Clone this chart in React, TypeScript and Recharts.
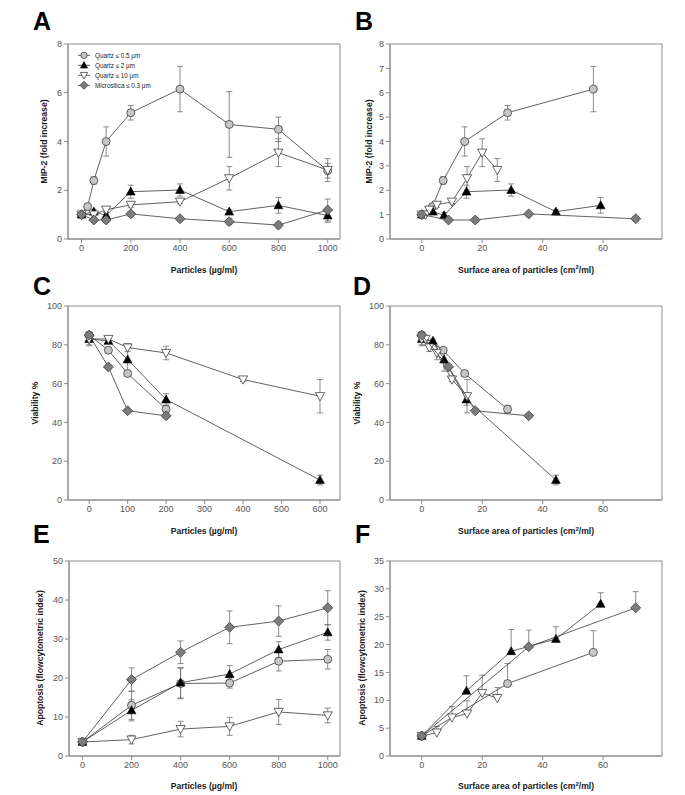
import { ScatterChart, Scatter, XAxis, YAxis, ErrorBar, ReferenceArea } from 'recharts'

const FONT = 'Arial, "Liberation Sans", Helvetica, sans-serif'
const LINE = '#3a3a3a'
const ERR = '#6e6e6e'
const FRAME = '#8c8c8c'
const TICK_TEXT = '#555'

const seriesNames = ['Quartz ≤ 0.5 µm', 'Quartz ≤ 2 µm', 'Quartz ≤ 10 µm', 'Microsilica ≤ 0.3 µm']

// MIP-2 (A: by dose, B: by surface area)
const mipDoseQ05 = [0, 25, 50, 100, 200, 400, 600, 800, 1000]
const mipDose = [0, 50, 100, 200, 400, 600, 800, 1000]
const mipQ05 = [1.0, 1.33, 2.4, 4.0, 5.18, 6.15, 4.7, 4.5, 2.8]
const mipQ05Err = [0.05, 0.05, 0.15, 0.6, 0.3, 0.93, 1.35, 0.5, 0.3]
const mipQ2 = [1.0, 1.12, 0.97, 1.94, 2.01, 1.12, 1.38, 0.96]
const mipQ2Err = [0.05, 0.1, 0.12, 0.27, 0.25, 0.08, 0.32, 0.27]
const mipQ10 = [1.0, 1.0, 1.2, 1.4, 1.53, 2.49, 3.54, 2.83]
const mipQ10Err = [0.05, 0.05, 0.1, 0.1, 0.08, 0.48, 0.57, 0.47]
const mipMS = [1.0, 0.78, 0.78, 1.03, 0.83, 0.71, 0.57, 1.19]
const mipMSErr = [0.05, 0.1, 0.1, 0.1, 0.1, 0.12, 0.12, 0.45]
const mipAreaQ05 = [0, 3.55, 7.1, 14.2, 28.4, 56.8]
const mipAreaQ2 = [0, 3.7, 7.4, 14.8, 29.6, 44.4, 59.2]
const mipAreaQ10 = [0, 1.25, 2.5, 5, 10, 15, 20, 25]
const mipAreaMS = [0, 8.85, 17.7, 35.4, 70.8]

// viability (C, D)
const viaDoseQ05 = [0, 50, 100, 200]
const viaDoseQ2 = [0, 50, 100, 200, 600]
const viaDoseQ10 = [0, 50, 100, 200, 400, 600]
const viaDoseMS = [0, 50, 100, 200]
const viaQ05 = [85, 77.2, 65.2, 46.8]
const viaQ05Err = [1.5, 1, 1.5, 2]
const viaQ2 = [83, 82, 72.4, 51.8, 10.3]
const viaQ2Err = [3, 1, 6, 3, 2.5]
const viaQ10 = [83, 83, 78.6, 75.8, 62.1, 53.5]
const viaQ10Err = [3.5, 1, 2, 3.5, 1, 8.6]
const viaMS = [85, 68.6, 46, 43.4]
const viaMSErr = [1.5, 1, 1, 1]
const viaAreaQ05 = [0, 7.1, 14.2, 28.4]
const viaAreaQ2 = [0, 3.7, 7.4, 14.8, 44.4]
const viaAreaQ10 = [0, 1.25, 2.5, 5, 10, 15]
const viaAreaMS = [0, 8.85, 17.7, 35.4]

// apoptosis (E, F)
const apoDose = [0, 200, 400, 600, 800, 1000]
const apoQ05 = [3.6, 13.0, 18.6, 18.7, 24.3, 24.8]
const apoQ05Err = [0.5, 3.6, 3.9, 1.3, 2.5, 2.5]
const apoQ2 = [3.6, 11.7, 18.8, 21.0, 27.3, 31.7]
const apoQ2Err = [0.5, 2.7, 3.9, 2.2, 2.0, 2.0]
const apoQ10 = [3.6, 4.2, 6.9, 7.6, 11.3, 10.4]
const apoQ10Err = [0.3, 1.1, 2.0, 2.3, 3.2, 1.9]
const apoMS = [3.6, 19.6, 26.6, 33.0, 34.6, 38.0]
const apoMSErr = [0.3, 3.0, 2.9, 4.2, 3.9, 4.4]
const apoAreaQ05 = [0, 28.4, 56.8]
const apoAreaQ2 = [0, 14.8, 29.6, 44.4, 59.2]
const apoAreaQ10 = [0, 5, 10, 15, 20, 25]
const apoAreaMS = [0, 35.4, 70.8]

const ticksDose = [0, 200, 400, 600, 800, 1000]
const ticksViaDose = [0, 100, 200, 300, 400, 500, 600]
const ticksArea = [0, 20, 40, 60]
const ticksMipA = [0, 2, 4, 6, 8]
const ticksMipB = [0, 1, 2, 3, 4, 5, 6, 7, 8]
const ticksVia = [0, 20, 40, 60, 80, 100]
const ticksApoE = [0, 10, 20, 30, 40, 50]
const ticksApoF = [0, 5, 10, 15, 20, 25, 30, 35]

type Kind = 'circle' | 'up' | 'down' | 'diamond'
const kinds: Kind[] = ['circle', 'up', 'down', 'diamond']

const pts = (xs: number[], ys: number[], es: number[], upOnly = false) =>
  xs.map((x, i) => ({ x, y: ys[i], e: upOnly ? [0, es[i]] : es[i] }))

function Marker({ cx, cy, kind, s = 1 }: any) {
  if (cx == null || cy == null) return null
  if (kind === 'circle')
    return <circle cx={cx} cy={cy} r={4 * s} fill="#c6c6c6" stroke="#404040" strokeWidth={0.8} />
  if (kind === 'up')
    return (
      <polygon
        points={`${cx},${cy - 4.6 * s} ${cx + 4.4 * s},${cy + 3.4 * s} ${cx - 4.4 * s},${cy + 3.4 * s}`}
        fill="#000"
        stroke="#000"
        strokeWidth={0.6}
      />
    )
  if (kind === 'down')
    return (
      <polygon
        points={`${cx - 4.6 * s},${cy - 3.6 * s} ${cx + 4.6 * s},${cy - 3.6 * s} ${cx},${cy + 4.6 * s}`}
        fill="#fff"
        stroke="#404040"
        strokeWidth={0.8}
      />
    )
  return (
    <polygon
      points={`${cx},${cy - 5 * s} ${cx + 5 * s},${cy} ${cx},${cy + 5 * s} ${cx - 5 * s},${cy}`}
      fill="#7c7c7c"
      stroke="#404040"
      strokeWidth={0.8}
    />
  )
}

interface PanelProps {
  left: number
  top: number
  width: number
  height: number
  marginTop: number
  marginRight: number
  yWidth: number
  xDomain: [number, number]
  xTicks: number[]
  yDomain: [number, number]
  yTicks: number[]
  data: any[][]
}

function Panel(p: PanelProps) {
  const tick = { fontSize: 9, fill: TICK_TEXT, fontFamily: FONT }
  return (
    <div style={{ position: 'absolute', left: p.left, top: p.top }}>
      <ScatterChart
        width={p.width}
        height={p.height}
        margin={{ top: p.marginTop, right: p.marginRight, bottom: 5, left: 0 }}
      >
        <XAxis
          type="number"
          dataKey="x"
          domain={p.xDomain}
          ticks={p.xTicks}
          height={20}
          tickSize={4}
          tick={tick}
          stroke={FRAME}
          allowDataOverflow
        />
        <YAxis
          type="number"
          dataKey="y"
          domain={p.yDomain}
          ticks={p.yTicks}
          width={p.yWidth}
          tickSize={4}
          tick={tick}
          stroke={FRAME}
          allowDataOverflow
        />
        <ReferenceArea
          x1={p.xDomain[0]}
          x2={p.xDomain[1]}
          y1={p.yDomain[0]}
          y2={p.yDomain[1]}
          fill="none"
          stroke={FRAME}
          strokeWidth={1}
          ifOverflow="visible"
        />
        {p.data.map((d, i) => (
          <Scatter
            key={i}
            name={seriesNames[i]}
            data={d}
            line={{ stroke: LINE, strokeWidth: 0.8 }}
            shape={(sp: any) => <Marker cx={sp.cx} cy={sp.cy} kind={kinds[i]} />}
            isAnimationActive={false}
          >
            <ErrorBar dataKey="e" direction="y" width={3} stroke={ERR} strokeWidth={0.8} />
          </Scatter>
        ))}
      </ScatterChart>
    </div>
  )
}

const doseDomain: [number, number] = [-55, 1050]
const viaDoseDomain: [number, number] = [-55, 652]
const areaDomain: [number, number] = [-10.5, 79.5]

function Titles() {
  const letter = { fontSize: 25, fontWeight: 700, fontFamily: FONT, fill: '#000' }
  const axis = { fontSize: 8.6, fontWeight: 700, fontFamily: FONT, fill: '#1a1a1a' }
  const xTitle = (x: number, y: number, area: boolean) => (
    <text x={x} y={y} textAnchor="middle" style={axis}>
      {area ? (
        <>
          Surface area of particles (cm
          <tspan dy={-3.5} fontSize={6}>2</tspan>
          <tspan dy={3.5}>/ml)</tspan>
        </>
      ) : (
        'Particles (µg/ml)'
      )}
    </text>
  )
  const yTitle = (x: number, y: number, t: string) => (
    <text transform={`translate(${x},${y}) rotate(-90)`} y={3} textAnchor="middle" style={axis}>
      {t}
    </text>
  )
  return (
    <svg width={685} height={795} style={{ position: 'absolute', left: 0, top: 0, pointerEvents: 'none' }}>
      <text x={33} y={30} style={letter}>A</text>
      <text x={355} y={30} style={letter}>B</text>
      <text x={33} y={295} style={letter}>C</text>
      <text x={353} y={295} style={letter}>D</text>
      <text x={33} y={543} style={letter}>E</text>
      <text x={355} y={543} style={letter}>F</text>
      {xTitle(204, 272.5, false)}
      {xTitle(526, 272.5, true)}
      {xTitle(204, 534, false)}
      {xTitle(526, 534, true)}
      {xTitle(204, 789, false)}
      {xTitle(526, 789, true)}
      {yTitle(43.5, 141.5, 'MIP-2 (fold increase)')}
      {yTitle(368.5, 141.5, 'MIP-2 (fold increase)')}
      {yTitle(35, 403, 'Viability %')}
      {yTitle(357, 403, 'Viability %')}
      {yTitle(39.5, 658, 'Apoptosis (flowcytometric index)')}
      {yTitle(362, 658, 'Apoptosis (flowcytometric index)')}
      {seriesNames.map((n, i) => {
        const cy = 55.3 + i * 10
        return (
          <g key={n}>
            <line x1={78} x2={90} y1={cy} y2={cy} stroke={LINE} strokeWidth={0.8} />
            <Marker cx={84} cy={cy} kind={kinds[i]} s={0.8} />
            <text x={95} y={cy + 2.2} style={{ fontSize: 6.3, fontFamily: FONT, fill: '#222' }}>
              {n}
            </text>
          </g>
        )
      })}
    </svg>
  )
}

export default function App() {
  const mipA = [
    pts(mipDoseQ05, mipQ05, mipQ05Err),
    pts(mipDose, mipQ2, mipQ2Err),
    pts(mipDose, mipQ10, mipQ10Err),
    pts(mipDose, mipMS, mipMSErr),
  ]
  const mipB = [
    pts(mipAreaQ05, mipQ05, mipQ05Err),
    pts(mipAreaQ2, mipQ2, mipQ2Err),
    pts(mipAreaQ10, mipQ10, mipQ10Err),
    pts(mipAreaMS, mipMS, mipMSErr),
  ]
  const viaC = [
    pts(viaDoseQ05, viaQ05, viaQ05Err),
    pts(viaDoseQ2, viaQ2, viaQ2Err),
    pts(viaDoseQ10, viaQ10, viaQ10Err),
    pts(viaDoseMS, viaMS, viaMSErr),
  ]
  const viaD = [
    pts(viaAreaQ05, viaQ05, viaQ05Err),
    pts(viaAreaQ2, viaQ2, viaQ2Err),
    pts(viaAreaQ10, viaQ10, viaQ10Err),
    pts(viaAreaMS, viaMS, viaMSErr),
  ]
  const apoE = [
    pts(apoDose, apoQ05, apoQ05Err),
    pts(apoDose, apoQ2, apoQ2Err),
    pts(apoDose, apoQ10, apoQ10Err),
    pts(apoDose, apoMS, apoMSErr),
  ]
  const apoF = [
    pts(apoAreaQ05, apoQ05, apoQ05Err, true),
    pts(apoAreaQ2, apoQ2, apoQ2Err, true),
    pts(apoAreaQ10, apoQ10, apoQ10Err, true),
    pts(apoAreaMS, apoMS, apoMSErr, true),
  ]

  return (
    <div style={{ position: 'absolute', left: 0, top: 0, width: 685, height: 795, background: '#fff' }}>
      <Panel left={0} top={0} width={345} height={264} marginTop={44} marginRight={5} yWidth={68}
        xDomain={doseDomain} xTicks={ticksDose} yDomain={[0, 8]} yTicks={ticksMipA} data={mipA} />
      <Panel left={340} top={0} width={332} height={264} marginTop={44} marginRight={10} yWidth={50}
        xDomain={areaDomain} xTicks={ticksArea} yDomain={[0, 8]} yTicks={ticksMipB} data={mipB} />
      <Panel left={0} top={260} width={345} height={265} marginTop={46} marginRight={5} yWidth={68}
        xDomain={viaDoseDomain} xTicks={ticksViaDose} yDomain={[0, 100]} yTicks={ticksVia} data={viaC} />
      <Panel left={340} top={260} width={332} height={265} marginTop={46} marginRight={10} yWidth={50}
        xDomain={areaDomain} xTicks={ticksArea} yDomain={[0, 100]} yTicks={ticksVia} data={viaD} />
      <Panel left={0} top={520} width={345} height={261} marginTop={41} marginRight={5} yWidth={69}
        xDomain={doseDomain} xTicks={ticksDose} yDomain={[0, 50]} yTicks={ticksApoE} data={apoE} />
      <Panel left={340} top={520} width={332} height={261} marginTop={41} marginRight={10} yWidth={50}
        xDomain={areaDomain} xTicks={ticksArea} yDomain={[0, 35]} yTicks={ticksApoF} data={apoF} />
      <Titles />
    </div>
  )
}
